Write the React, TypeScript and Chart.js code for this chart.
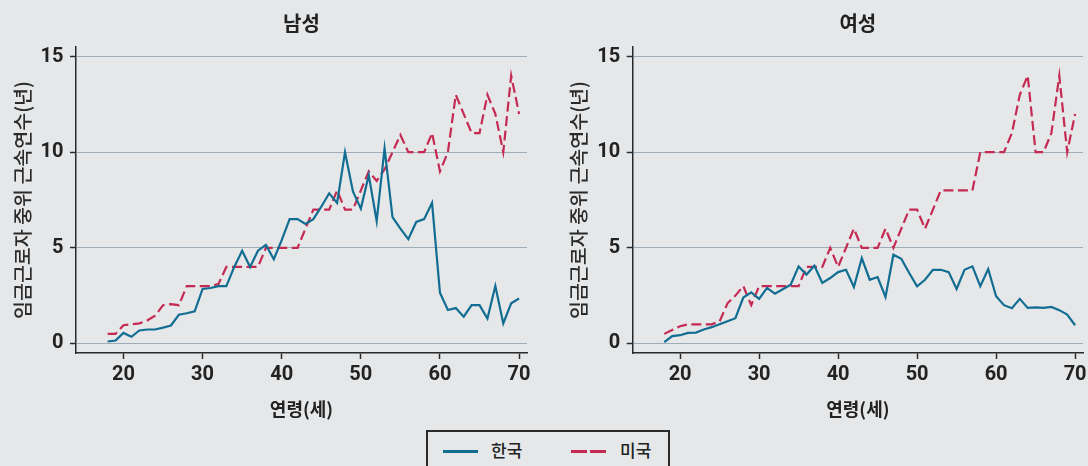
import React, { useEffect, useRef } from 'react';
import { Chart, registerables } from 'chart.js';

Chart.register(...registerables);

// ---------------- data ----------------
const ages = [
  18, 19, 20, 21, 22, 23, 24, 25, 26, 27, 28, 29,
  30, 31, 32, 33, 34, 35, 36, 37, 38, 39,
  40, 41, 42, 43, 44, 45, 46, 47, 48, 49,
  50, 51, 52, 53, 54, 55, 56, 57, 58, 59,
  60, 61, 62, 63, 64, 65, 66, 67, 68, 69, 70,
];

const maleKorea = [
  0.1, 0.15, 0.55, 0.35, 0.68, 0.73, 0.73, 0.83, 0.94, 1.5, 1.58, 1.68,
  2.85, 2.9, 3.0, 3.0, 4.0, 4.85, 4.0, 4.85, 5.15, 4.4,
  5.4, 6.5, 6.5, 6.25, 6.5, 7.15, 7.85, 7.35, 10.0, 7.95,
  7.05, 8.8, 6.4, 10.2, 6.6, 6.0, 5.45, 6.35, 6.5, 7.35,
  2.65, 1.75, 1.85, 1.4, 2.0, 2.0, 1.3, 3.0, 1.05, 2.1, 2.35,
];

const maleUS = [
  0.5, 0.5, 0.95, 1.0, 1.05, 1.2, 1.45, 2.0, 2.05, 2.0, 3.0, 3.0,
  3.0, 3.0, 3.1, 4.0, 4.0, 4.0, 4.0, 4.0, 5.0, 5.0,
  5.0, 5.0, 5.0, 6.0, 7.0, 7.0, 7.0, 8.0, 7.0, 7.0,
  8.0, 9.0, 8.5, 9.1, 10.0, 10.9, 10.0, 10.0, 10.0, 11.0,
  9.0, 10.0, 13.0, 12.0, 11.0, 11.0, 13.0, 12.0, 10.0, 14.0, 12.0,
];

const femaleKorea = [
  0.07, 0.38, 0.43, 0.55, 0.57, 0.73, 0.85, 1.0, 1.16, 1.32, 2.4, 2.67,
  2.33, 2.9, 2.6, 2.83, 3.07, 4.03, 3.6, 4.06, 3.16, 3.42,
  3.73, 3.85, 2.95, 4.46, 3.33, 3.47, 2.43, 4.64, 4.43, 3.68,
  2.99, 3.33, 3.85, 3.85, 3.73, 2.85, 3.85, 4.03, 2.99, 3.89,
  2.47, 2.0, 1.84, 2.33, 1.86, 1.89, 1.86, 1.91, 1.74, 1.51, 0.95,
];

const femaleUS = [
  0.5, 0.7, 0.9, 1.0, 1.0, 1.0, 1.0, 1.15, 2.1, 2.5, 3.0, 2.0,
  3.0, 3.0, 3.0, 3.0, 3.0, 3.0, 4.0, 4.0, 4.0, 5.0,
  4.0, 5.0, 6.0, 5.0, 5.0, 5.0, 6.0, 5.0, 6.0, 7.0,
  7.0, 6.0, 7.0, 8.0, 8.0, 8.0, 8.0, 8.0, 10.0, 10.0,
  10.0, 10.0, 11.0, 13.0, 14.0, 10.0, 10.0, 11.0, 14.0, 10.0, 12.0,
];

const xTicks = [20, 30, 40, 50, 60, 70];
const yTicks = [0, 5, 10, 15];

const seriesNames = ['한국', '미국'];
const panelTitles = ['남성', '여성'];
const xTitle = '연령(세)';
const yTitle = '임금근로자 중위 근속연수(년)';

// ---------------- style ----------------
const BG = '#e5e7e9';
const GRID = '#9fadb9';
const AXIS = '#2a2a2a';
const BLUE = '#126d92';
const RED = '#c42a52';
const TEXT = '#222222';
const KFONT = '"Noto Sans CJK KR", "Noto Sans", sans-serif';
const NFONT = 'Roboto, "Liberation Sans", "Noto Sans CJK KR", sans-serif';

type PanelProps = {
  title: string;
  korea: number[];
  us: number[];
  yAxisWidth: number;
  yTitlePad: number;
  rightPad: number;
};

function Panel({ title, korea, us, yAxisWidth, yTitlePad, rightPad }: PanelProps) {
  const ref = useRef<HTMLCanvasElement | null>(null);

  useEffect(() => {
    if (!ref.current) return;
    const chart = new Chart(ref.current, {
      type: 'line',
      data: {
        datasets: [
          {
            label: seriesNames[0],
            data: ages.map((a, i) => ({ x: a, y: korea[i] })),
            borderColor: BLUE,
            backgroundColor: BLUE,
            borderWidth: 2.2,
            pointRadius: 0,
            tension: 0,
            fill: false,
          },
          {
            label: seriesNames[1],
            data: ages.map((a, i) => ({ x: a, y: us[i] })),
            borderColor: RED,
            backgroundColor: RED,
            borderWidth: 2.2,
            borderDash: [10, 4.5],
            pointRadius: 0,
            tension: 0,
            fill: false,
          },
        ],
      },
      options: {
        animation: false,
        responsive: false,
        devicePixelRatio: 1,
        layout: { padding: { left: 0, right: rightPad, top: 0, bottom: 0 } },
        plugins: {
          legend: { display: false },
          tooltip: { enabled: false },
          title: {
            display: true,
            text: title,
            fullSize: false,
            color: TEXT,
            font: { family: KFONT, size: 20, weight: 'bold', lineHeight: 1.2 },
            padding: { top: 11, bottom: 12 },
          },
        },
        scales: {
          x: {
            type: 'linear',
            min: 14,
            max: 71,
            afterBuildTicks: (s: any) => {
              s.ticks = xTicks.map((v) => ({ value: v }));
            },
            afterFit: (s: any) => {
              s.height = 67;
              s.paddingLeft = 0;
              s.paddingRight = 0;
            },
            border: { display: true, color: AXIS, width: 1.5 },
            grid: {
              drawOnChartArea: false,
              drawTicks: true,
              tickLength: 6,
              tickColor: AXIS,
              tickWidth: 1.5,
            },
            ticks: {
              color: TEXT,
              padding: 4,
              maxRotation: 0,
              font: { family: NFONT, size: 20, weight: 'bold', lineHeight: 1.2 },
            },
            title: {
              display: true,
              text: xTitle,
              color: TEXT,
              font: { family: KFONT, size: 18, weight: 'bold', lineHeight: 1.2 },
              padding: { top: 0, bottom: 0 },
            },
          },
          y: {
            type: 'linear',
            min: -0.5,
            max: 15.5,
            afterBuildTicks: (s: any) => {
              s.ticks = yTicks.map((v) => ({ value: v }));
            },
            afterFit: (s: any) => {
              s.width = yAxisWidth;
              s.paddingTop = 0;
              s.paddingBottom = 0;
            },
            border: { display: true, color: AXIS, width: 1.5 },
            grid: {
              color: GRID,
              lineWidth: 1,
              drawTicks: true,
              tickLength: 6,
              tickColor: AXIS,
              tickWidth: 1.5,
            },
            ticks: {
              color: TEXT,
              padding: 6.5,
              font: { family: NFONT, size: 20, weight: 'bold', lineHeight: 1.2 },
            },
            title: {
              display: true,
              text: yTitle,
              color: '#2a2a2a',
              font: { family: KFONT, size: 19.5, weight: '500', lineHeight: 1.2 },
              padding: { top: yTitlePad, bottom: 0 },
            },
          },
        },
      },
    } as any);
    return () => chart.destroy();
  }, [title, korea, us, yAxisWidth, yTitlePad, rightPad]);

  return <canvas ref={ref} width={544} height={420} style={{ display: 'block', width: 544, height: 420 }} />;
}

export default function App() {
  useEffect(() => {
    document.body.style.margin = '0';
    document.body.style.background = BG;
  }, []);

  return (
    <div
      style={{
        position: 'relative',
        width: 1088,
        height: 466,
        overflow: 'hidden',
        background: BG,
      }}
    >
      <div style={{ position: 'absolute', left: 0, top: 0 }}>
        <Panel title={panelTitles[0]} korea={maleKorea} us={maleUS} yAxisWidth={76} yTitlePad={10.8} rightPad={17} />
      </div>
      <div style={{ position: 'absolute', left: 544, top: 0 }}>
        <Panel title={panelTitles[1]} korea={femaleKorea} us={femaleUS} yAxisWidth={88.7} yTitlePad={23.3} rightPad={5} />
      </div>
      <div
        style={{
          position: 'absolute',
          left: 426,
          top: 430,
          width: 240,
          height: 60,
          border: `2px solid ${AXIS}`,
          boxSizing: 'content-box',
          fontFamily: KFONT,
          fontSize: 17,
          fontWeight: 500,
          color: TEXT,
        }}
      >
        <div style={{ position: 'absolute', left: 15, top: 18, width: 35, height: 2.5, background: BLUE }} />
        <div style={{ position: 'absolute', left: 63, top: 7, lineHeight: '22px' }}>{seriesNames[0]}</div>
        <div style={{ position: 'absolute', left: 143, top: 18, width: 16, height: 2.5, background: RED }} />
        <div style={{ position: 'absolute', left: 162, top: 18, width: 16, height: 2.5, background: RED }} />
        <div style={{ position: 'absolute', left: 192, top: 7, lineHeight: '22px' }}>{seriesNames[1]}</div>
      </div>
    </div>
  );
}
